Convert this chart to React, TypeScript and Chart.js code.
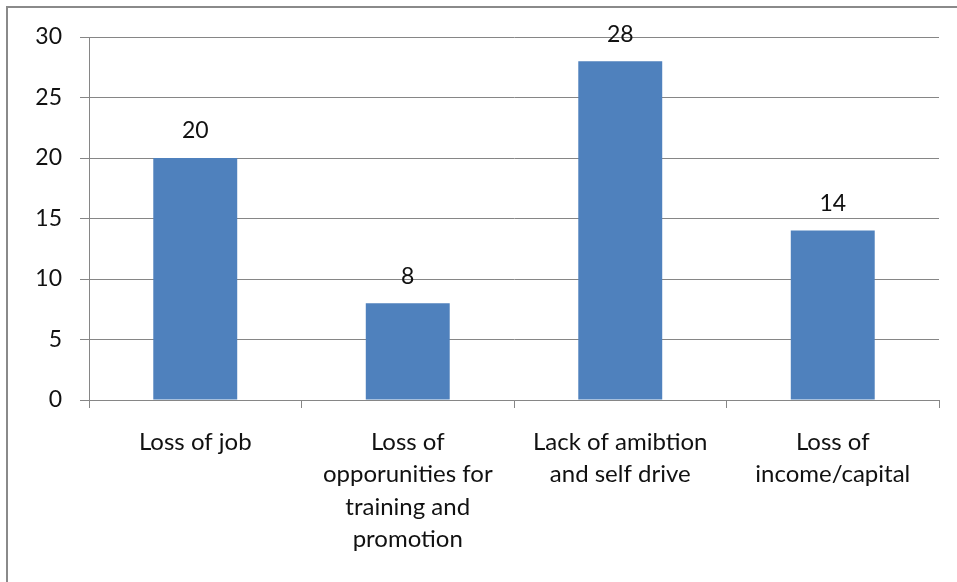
import React, { useEffect, useRef } from "react";
import { Chart, registerables } from "chart.js";

Chart.register(...registerables);

const categories: string[][] = [
  ["Loss of job"],
  ["Loss of", "opporunities for", "training and", "promotion"],
  ["Lack of amibtion", "and self drive"],
  ["Loss of", "income/capital"],
];
const values: number[] = [20, 8, 28, 14];
const yTicks: number[] = [0, 5, 10, 15, 20, 25, 30];

const FONT = "Lato, 'Open Sans', sans-serif";
const FONT_SIZE = 24;
const Y_FONT_SIZE = 23;
const GRID = "#868686";

const framePlugin = {
  id: "frame",
  beforeDraw(chart: any) {
    const ctx = chart.ctx;
    ctx.save();
    ctx.strokeStyle = "#8a8a8a";
    ctx.lineWidth = 2;
    ctx.beginPath();
    ctx.moveTo(7, chart.height + 5);
    ctx.lineTo(7, 7);
    ctx.lineTo(chart.width + 5, 7);
    ctx.stroke();
    ctx.restore();
  },
};

const labelPlugin = {
  id: "valueLabels",
  afterDatasetsDraw(chart: any) {
    const ctx = chart.ctx;
    const meta = chart.getDatasetMeta(0);
    ctx.save();
    ctx.font = `${Y_FONT_SIZE}px ${FONT}`;
    ctx.fillStyle = "#111";
    ctx.textAlign = "center";
    ctx.textBaseline = "middle";
    meta.data.forEach((el: any, i: number) => {
      ctx.fillText(String(values[i]), el.x, el.y - 27);
    });
    ctx.restore();
  },
};

export default function App() {
  const ref = useRef<HTMLCanvasElement | null>(null);
  useEffect(() => {
    document.body.style.margin = "0";
    const chart = new Chart(ref.current!, {
      type: "bar",
      data: {
        labels: categories,
        datasets: [
          {
            data: values,
            backgroundColor: "#4F81BD",
            borderWidth: 0,
            categoryPercentage: 1,
            barPercentage: 0.395,
          },
        ],
      },
      options: {
        animation: false,
        responsive: false,
        maintainAspectRatio: false,
        layout: { padding: { top: 37, right: 18, left: 0, bottom: 0 } },
        plugins: { legend: { display: false }, tooltip: { enabled: false } },
        scales: {
          x: {
            grid: {
              display: true,
              drawOnChartArea: false,
              drawTicks: true,
              tickLength: 8,
              color: GRID,
              offset: true,
            },
            border: { display: true, color: GRID },
            ticks: {
              color: "#111",
              padding: 18,
              maxRotation: 0,
              autoSkip: false,
              font: { family: FONT, size: FONT_SIZE, lineHeight: 32.5 / FONT_SIZE },
            },
            afterFit(scale: any) {
              scale.height = 182;
            },
          },
          y: {
            min: 0,
            max: 30,
            afterBuildTicks(scale: any) {
              scale.ticks = yTicks.map((v) => ({ value: v }));
            },
            grid: { color: GRID, tickLength: 9, drawTicks: true },
            border: { display: true, color: GRID },
            ticks: {
              color: "#111",
              padding: 18,
              font: { family: FONT, size: Y_FONT_SIZE },
            },
            afterFit(scale: any) {
              scale.width = 89;
            },
          },
        },
      },
      plugins: [framePlugin, labelPlugin],
    });
    return () => chart.destroy();
  }, []);
  return (
    <div style={{ position: "absolute", left: 0, top: 0, width: 957, height: 582 }}>
      <canvas ref={ref} width={957} height={582} />
    </div>
  );
}
